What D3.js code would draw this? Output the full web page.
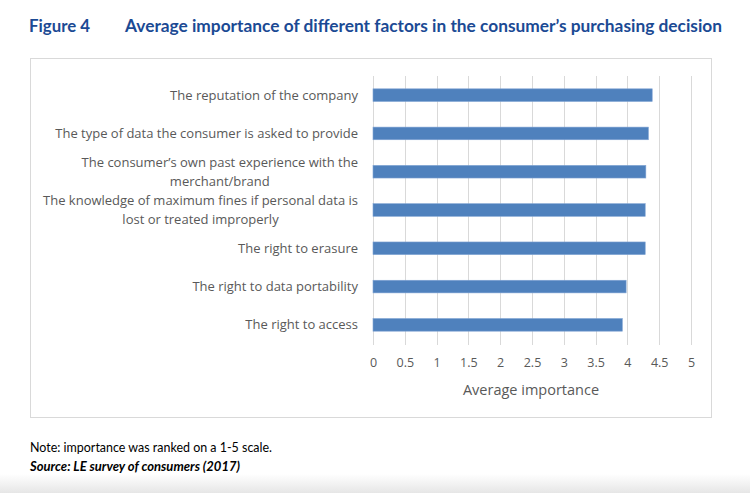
<!DOCTYPE html>
<html><head><meta charset="utf-8">
<script src="https://cdn.jsdelivr.net/npm/d3@7"></script>
<style>body{margin:0;background:#fff;}svg{display:block;}</style>
</head><body>
<svg id="c" width="750" height="493"></svg>
<script>
const categories = [
  ["The reputation of the company"],
  ["The type of data the consumer is asked to provide"],
  ["The consumer\u2019s own past experience with the", "merchant/brand"],
  ["The knowledge of maximum fines if personal data is", "lost or treated improperly"],
  ["The right to erasure"],
  ["The right to data portability"],
  ["The right to access"]
];
const values = [4.39, 4.33, 4.29, 4.28, 4.28, 3.98, 3.92];
const xTicks = [0, 0.5, 1, 1.5, 2, 2.5, 3, 3.5, 4, 4.5, 5];
const tickLabels = ["0","0.5","1","1.5","2","2.5","3","3.5","4","4.5","5"];

const svg = d3.select("#c");
const defs = svg.append("defs");
const g = defs.append("linearGradient").attr("id","bg").attr("x1",0).attr("y1",0).attr("x2",0).attr("y2",1);
g.append("stop").attr("offset","0").attr("stop-color","#ffffff");
g.append("stop").attr("offset","1").attr("stop-color","#e6e6e6");
svg.append("rect").attr("x",0).attr("y",474).attr("width",750).attr("height",19).attr("fill","url(#bg)");

// Title
svg.append("text").attr("x",29).attr("y",32).attr("font-family","Lato, 'Open Sans', sans-serif")
  .attr("font-weight","bold").attr("font-size",16.5).attr("fill","#1B4A94")
  .attr("textLength",61).attr("lengthAdjust","spacingAndGlyphs").text("Figure 4");
svg.append("text").attr("x",125).attr("y",32).attr("font-family","Lato, 'Open Sans', sans-serif")
  .attr("font-weight","bold").attr("font-size",16.5).attr("fill","#1B4A94")
  .attr("textLength",597).attr("lengthAdjust","spacingAndGlyphs")
  .text("Average importance of different factors in the consumer\u2019s purchasing decision");

// Chart box
svg.append("rect").attr("x",30.5).attr("y",58.5).attr("width",681).attr("height",359)
  .attr("fill","#fff").attr("stroke","#d9d9d9").attr("stroke-width",1);

const x = d3.scaleLinear().domain([0,5]).range([373,691]);
const y = d3.scaleBand().domain(d3.range(categories.length)).range([76,344]).paddingInner(0.67).paddingOuter(0.335);

// gridlines
svg.append("g").selectAll("line").data(xTicks).join("line")
  .attr("x1",d=>Math.round(x(d))+0.5).attr("x2",d=>Math.round(x(d))+0.5)
  .attr("y1",76).attr("y2",345).attr("stroke","#d9d9d9").attr("stroke-width",1);

// bars
svg.append("g").selectAll("rect").data(values).join("rect")
  .attr("x",x(0)).attr("y",(d,i)=>y(i)).attr("width",d=>x(d)-x(0)).attr("height",y.bandwidth())
  .attr("fill","#4F81BD").attr("stroke","#7fa3d3").attr("stroke-width",0.6);

// tick labels
const axis = d3.axisBottom(x).tickValues(xTicks).tickFormat((d,i)=>tickLabels[i]).tickSize(0).tickPadding(0);
const ax = svg.append("g").attr("transform","translate(0,358)").call(axis);
ax.select(".domain").remove();
ax.selectAll("text").attr("font-family","'Open Sans', sans-serif").attr("font-size",12.5).attr("fill","#595959").attr("dy","0.72em");

svg.append("text").attr("x",531).attr("y",395).attr("text-anchor","middle")
  .attr("font-family","'Open Sans', sans-serif").attr("font-size",14.5).attr("fill","#595959")
  .text("Average importance");

// category labels
const labelRight = 358;
const lineH = 19;
categories.forEach((lines,i)=>{
  const cy = y(i) + y.bandwidth()/2;
  const t = svg.append("text").attr("font-family","'Open Sans', sans-serif").attr("font-size",13)
    .attr("fill","#595959");
  const n = lines.length;
  const spans = lines.map((s,k)=> t.append("tspan").attr("y", cy + (k-(n-1)/2)*lineH).attr("dy","0.35em").text(s));
  const widths = spans.map(sp=>sp.node().getComputedTextLength());
  const maxW = d3.max(widths);
  const cx = labelRight - maxW/2;
  t.attr("text-anchor","middle");
  spans.forEach(sp=>sp.attr("x",cx));
});

// notes
svg.append("text").attr("x",30).attr("y",452).attr("font-family","Lato, 'Open Sans', sans-serif")
  .attr("font-size",12.5).attr("fill","#000").attr("textLength",242).attr("lengthAdjust","spacingAndGlyphs")
  .text("Note: importance was ranked on a 1-5 scale.");
svg.append("text").attr("x",30).attr("y",471).attr("font-family","Lato, 'Open Sans', sans-serif")
  .attr("font-size",12.5).attr("font-weight","bold").attr("font-style","italic").attr("fill","#000")
  .attr("textLength",210).attr("lengthAdjust","spacingAndGlyphs")
  .text("Source: LE survey of consumers (2017)");
</script>
</body></html>
